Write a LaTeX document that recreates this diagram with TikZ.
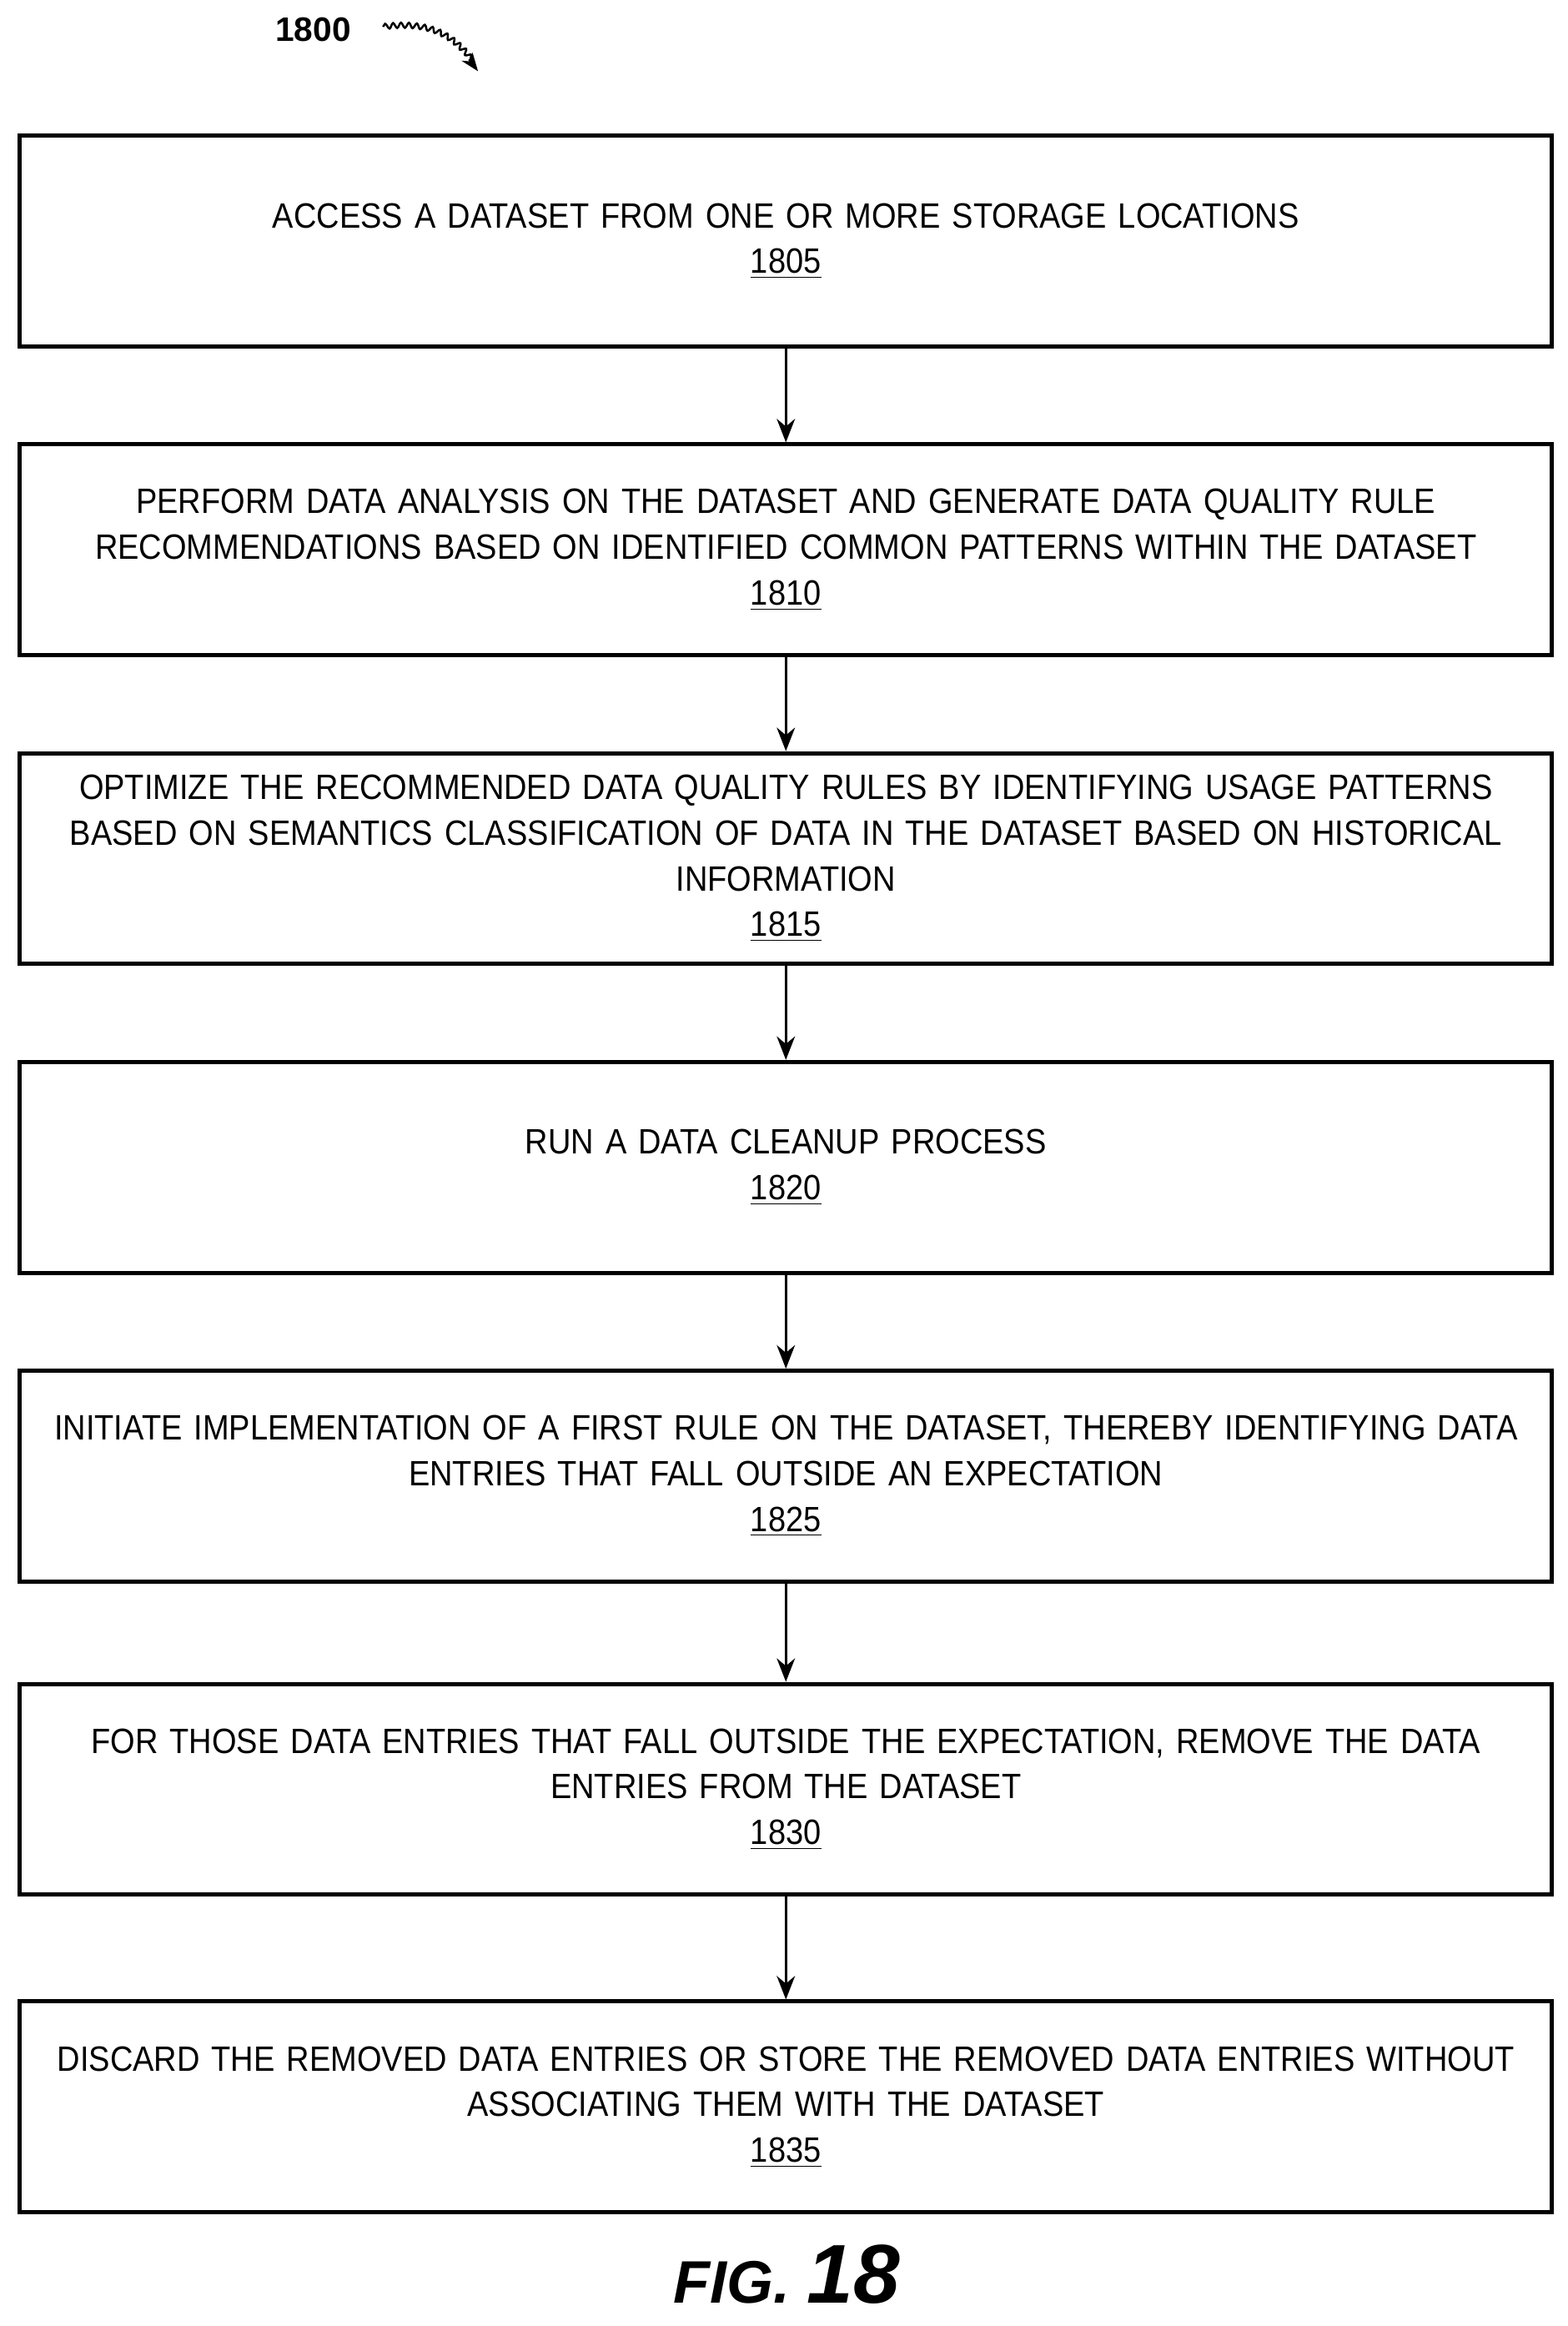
\documentclass[tikz,border=0pt]{standalone}
\usepackage{fontspec}
\setmainfont{Liberation Sans}
\newfontfamily\narrowfont[FakeStretch=0.9]{Liberation Sans}
\usetikzlibrary{arrows.meta,decorations.pathmorphing}
\begin{document}
\begin{tikzpicture}[x=0.02cm,y=-0.02cm,
  stepbox/.style={draw,line width=1.6pt,minimum width=1032*0.02cm,text width=1020*0.02cm,minimum height=142*0.02cm,align=center,font=\narrowfont\fontsize{13.5}{17.5}\selectfont,anchor=north west,inner sep=0pt},
  arr/.style={-{Stealth[length=9pt,width=7pt]},line width=0.8pt}]
\useasboundingbox (0,0) rectangle (1056,1567);
\node[font=\bfseries\fontsize{13}{15}\selectfont] (lbl) at (211,20) {1800};
\draw[decorate,decoration={snake,amplitude=1pt,segment length=3pt},line width=0.8pt] (258,18) .. controls (290,14) and (305,25) .. (318,42);
\draw[-{Stealth[length=7pt]},line width=0.8pt] (316,40) -- (322,48);
\node[stepbox] (b1) at (12,90) {ACCESS A DATASET FROM ONE OR MORE STORAGE LOCATIONS\\\underline{1805}};
\node[stepbox] (b2) at (12,298) {PERFORM DATA ANALYSIS ON THE DATASET AND GENERATE DATA QUALITY RULE\\RECOMMENDATIONS BASED ON IDENTIFIED COMMON PATTERNS WITHIN THE DATASET\\\underline{1810}};
\node[stepbox] (b3) at (12,506) {OPTIMIZE THE RECOMMENDED DATA QUALITY RULES BY IDENTIFYING USAGE PATTERNS\\BASED ON SEMANTICS CLASSIFICATION OF DATA IN THE DATASET BASED ON HISTORICAL\\INFORMATION\\\underline{1815}};
\node[stepbox] (b4) at (12,714) {RUN A DATA CLEANUP PROCESS\\\underline{1820}};
\node[stepbox] (b5) at (12,922) {INITIATE IMPLEMENTATION OF A FIRST RULE ON THE DATASET, THEREBY IDENTIFYING DATA\\ENTRIES THAT FALL OUTSIDE AN EXPECTATION\\\underline{1825}};
\node[stepbox] (b6) at (12,1133) {FOR THOSE DATA ENTRIES THAT FALL OUTSIDE THE EXPECTATION, REMOVE THE DATA\\ENTRIES FROM THE DATASET\\\underline{1830}};
\node[stepbox] (b7) at (12,1347) {DISCARD THE REMOVED DATA ENTRIES OR STORE THE REMOVED DATA ENTRIES WITHOUT\\ASSOCIATING THEM WITH THE DATASET\\\underline{1835}};
\foreach \a/\b in {b1/b2,b2/b3,b3/b4,b4/b5,b5/b6,b6/b7}
  \draw[arr] (\a.south) -- (\b.north);
\node[font=\bfseries\itshape\fontsize{23}{27}\selectfont] (fig) at (530,1532) {FIG. {\fontsize{32}{36}\selectfont 18}};
\end{tikzpicture}
\end{document}
